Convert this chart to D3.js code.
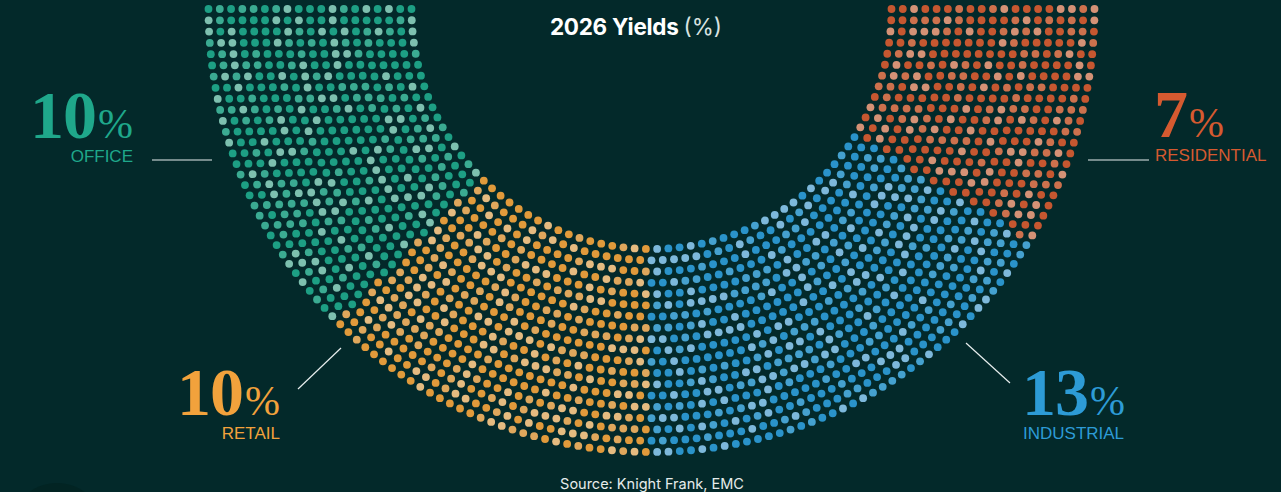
<!DOCTYPE html>
<html>
<head>
<meta charset="utf-8">
<script src="https://cdn.jsdelivr.net/npm/d3@7"></script>
<style>
  html, body { margin: 0; padding: 0; background: #03292a; }
  svg { display: block; }
</style>
</head>
<body>
<svg id="chart" width="1281" height="492"></svg>
<script>
const categories = ["OFFICE", "RETAIL", "INDUSTRIAL", "RESIDENTIAL"];
const values = [10, 10, 13, 7];
const valueLabels = ["10", "10", "13", "7"];
const title = "2026 Yields";
const titleUnit = "(%)";
const source = "Source: Knight Frank, EMC";

const baseColors = ["#1fa88b", "#f2a23c", "#2d9bd6", "#d55a30"];
const lightColors = ["#86cbb9", "#f6c686", "#86c3e8", "#e59a7c"];
const midColors = ["#3fb59a", "#f0b060", "#4aaadc", "#dd7650"];

const W = 1281, H = 492;
const svg = d3.select("#chart");
svg.append("rect").attr("width", W).attr("height", H).attr("fill", "#03292a");
svg.append("circle").attr("cx", 57).attr("cy", 530).attr("r", 47).attr("fill", "#022423");

const cx = 651.5, cy = 9;
const rInner = 240, rOuter = 443, nRings = 19;
const spacing = (rOuter - rInner) / (nRings - 1);

// segments via d3.pie across the lower half (angle 0 = left, PI = right, through bottom)
const pie = d3.pie().sort(null).value(d => d).startAngle(0).endAngle(Math.PI);
const arcs = pie(values);

const ringScale = d3.scaleLinear().domain([0, nRings - 1]).range([rInner, rOuter]);

function shadeIndex(i, j) {
  let h = (i * 73856093) ^ (j * 19349663);
  h = (h ^ (h >>> 13)) * 1274126177;
  h = h ^ (h >>> 16);
  const v = Math.abs(h) % 100;
  return v < 55 ? 0 : (v < 78 ? 2 : 1);
}

const dots = [];
for (let i = 0; i < nRings; i++) {
  const r = ringScale(i);
  const n = Math.round(Math.PI * r / spacing);
  const step = Math.PI / n;
  for (let j = 0; j <= n; j++) {
    const a = j * step;
    let seg = arcs.findIndex(s => a >= s.startAngle && a < s.endAngle);
    if (seg < 0) seg = arcs.length - 1;
    dots.push({ x: cx - r * Math.cos(a), y: cy + r * Math.sin(a), seg, shade: shadeIndex(i, j) });
  }
}

svg.append("g").selectAll("circle").data(dots).join("circle")
  .attr("cx", d => d.x).attr("cy", d => d.y).attr("r", 3.9)
  .attr("fill", d => d.shade === 0 ? baseColors[d.seg] : (d.shade === 1 ? lightColors[d.seg] : midColors[d.seg]))
  .attr("opacity", 0.93);

// title
const t = svg.append("text").attr("x", 636).attr("y", 35).attr("text-anchor", "middle")
  .attr("font-family", "Inter, 'Liberation Sans', sans-serif").attr("font-size", 22.5).attr("fill", "#ffffff");
t.append("tspan").attr("font-weight", 700).attr("letter-spacing", -0.3).text(title + " ");
t.append("tspan").attr("font-weight", 400).attr("fill", "#d8e2e0").text(titleUnit);

// labels
const labelPos = [
  { x: 133, y: 138, anchor: "end", line: [[152, 160], [212, 160]] },
  { x: 280, y: 415, anchor: "end", line: [[298, 389], [341, 348]] },
  { x: 1022, y: 415, anchor: "start", line: [[966, 343], [1010, 383]] },
  { x: 1154, y: 137, anchor: "start", line: [[1088, 160], [1149, 160]] }
];

categories.forEach((c, k) => {
  const p = labelPos[k];
  const g = svg.append("g");
  const num = g.append("text").attr("x", p.x).attr("y", p.y).attr("text-anchor", p.anchor)
    .attr("font-family", "'Liberation Serif', 'DejaVu Serif', serif").attr("font-weight", 700)
    .attr("fill", baseColors[k]);
  num.append("tspan").attr("font-size", 68).attr("letter-spacing", -1).text(valueLabels[k]);
  num.append("tspan").attr("font-size", 42).attr("font-weight", 400).attr("dx", 2).text("%");
  g.append("text").attr("x", p.x + (p.anchor === "start" ? 1 : 0)).attr("y", p.y + 24).attr("text-anchor", p.anchor)
    .attr("font-family", "'Liberation Sans', Arial, sans-serif").attr("font-size", 17)
    .attr("fill", baseColors[k]).text(c);
  g.append("line").attr("x1", p.line[0][0]).attr("y1", p.line[0][1])
    .attr("x2", p.line[1][0]).attr("y2", p.line[1][1])
    .attr("stroke", "#e8eeee").attr("stroke-width", 1.2);
});

svg.append("text").attr("x", 652).attr("y", 489).attr("text-anchor", "middle")
  .attr("font-family", "Inter, 'Liberation Sans', sans-serif").attr("font-size", 14.5)
  .attr("fill", "#e6eceb").text(source);
</script>
</body>
</html>
